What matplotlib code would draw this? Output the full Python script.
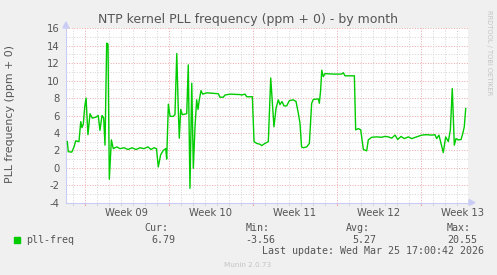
#!/usr/bin/env python3
"""
Munin style NTP kernel PLL frequency graph, by month.
"""
import matplotlib
matplotlib.use("Agg")
import matplotlib.pyplot as plt
from matplotlib.patches import Rectangle, Polygon

# days since left edge of graph, and pll frequency (ppm)
day_offsets = [0.11, 0.19, 0.48, 0.67, 0.81, 1.08, 1.23, 1.33, 1.44, 1.56,
               1.67, 1.83, 2.00, 2.19, 2.48, 2.69, 2.83, 3.00, 3.14, 3.25,
               3.39, 3.50, 3.61, 3.78, 3.94, 4.23, 4.50, 4.83, 5.17, 5.50,
               5.83, 6.17, 6.50, 6.83, 7.08, 7.33, 7.54, 7.69, 7.89, 8.11,
               8.31, 8.39, 8.53, 8.67, 8.94, 9.08, 9.23, 9.36, 9.44, 9.56,
               9.69, 10.06, 10.19, 10.33, 10.48, 10.61, 10.75, 10.89, 11.00, 11.11,
               11.25, 11.39, 11.73, 12.69, 12.83, 13.11, 13.25, 13.67, 14.50, 14.64,
               14.92, 15.06, 15.53, 15.67, 15.89, 16.17, 16.31, 16.58, 16.86, 17.06,
               17.33, 17.50, 17.69, 17.83, 18.00, 18.17, 18.39, 18.61, 18.94, 19.17,
               19.36, 19.50, 19.63, 19.78, 20.06, 20.28, 20.47, 20.61, 21.03, 21.11,
               21.22, 21.31, 21.44, 21.58, 22.28, 22.97, 23.11, 23.25, 24.03, 24.14,
               24.36, 24.56, 24.78, 25.06, 25.19, 25.47, 25.89, 26.31, 26.58, 26.86,
               27.14, 27.42, 27.64, 27.92, 28.19, 28.53, 28.81, 29.22, 29.64, 30.06,
               30.47, 30.75, 30.89, 31.08, 31.25, 31.44, 31.64, 31.86, 32.03, 32.19,
               32.36, 32.50, 32.69, 32.92, 33.06, 33.19, 33.31]
pll_freq = [3.0, 1.85, 1.8, 2.4, 3.1, 3.0, 5.3, 4.6, 5.0, 7.0,
            8.0, 3.8, 6.2, 5.7, 5.8, 6.0, 4.3, 6.0, 5.7, 2.6,
            14.3, 14.2, -1.3, 3.2, 2.2, 2.4, 2.2, 2.3, 2.1, 2.3,
            2.1, 2.3, 2.2, 2.4, 2.1, 2.3, 2.2, 0.1, 1.5, 2.0,
            2.2, 1.0, 7.3, 5.9, 5.9, 6.1, 13.1, 6.6, 3.4, 6.7,
            6.1, 6.2, 11.8, -2.35, 9.7, -0.05, 4.7, 7.8, 6.7, 7.8,
            8.85, 8.45, 8.6, 8.5, 8.1, 8.1, 8.35, 8.45, 8.4, 8.35,
            8.45, 8.15, 8.15, 3.0, 2.8, 2.7, 2.55, 2.8, 3.0, 10.3,
            4.7, 6.8, 7.8, 7.25, 7.6, 7.1, 7.1, 7.7, 7.8, 7.6,
            6.25, 5.1, 2.4, 2.3, 2.4, 2.8, 7.4, 7.85, 7.9, 7.4,
            8.9, 11.2, 10.45, 10.8, 10.75, 10.75, 10.9, 10.55, 10.55, 4.35,
            4.5, 4.35, 2.1, 1.95, 3.2, 3.5, 3.55, 3.5, 3.6, 3.55,
            3.4, 3.75, 3.25, 3.6, 3.35, 3.55, 3.35, 3.55, 3.75, 3.8,
            3.75, 3.8, 3.35, 3.75, 2.8, 1.75, 3.55, 3.0, 4.35, 9.1,
            2.6, 3.35, 3.2, 3.25, 3.9, 4.7, 6.8]

week_labels = ['Week 09', 'Week 10', 'Week 11', 'Week 12', 'Week 13']
first_week_start = 1.583   # monday of week 09, in days
x_span = 33.5
y_ticks = list(range(-4, 17, 2))

stats_names = ['Cur:', 'Min:', 'Avg:', 'Max:']
stats_values = ['6.79', '-3.56', '5.27', '20.55']

W, H = 497, 275
TXT = '#555555'
FAINT = '#c4c4c4'
MINOR = '#d6d6d6'
MAJOR = '#efaaaa'
AXIS = '#c9cdf5'


def fx(px):
    return px / W


def fy(py):
    return 1 - py / H


fig = plt.figure(figsize=(W / 100, H / 100), dpi=100, facecolor='#f0f0f0')
ax = fig.add_axes([fx(66), fy(202.7), fx(468) - fx(66), fy(28.3) - fy(202.7)])
ax.set_facecolor('white')
ax.set_xlim(0, x_span)
ax.set_ylim(-4, 16)
for s in ax.spines.values():
    s.set_visible(False)

dots = (0, (1, 1.6))
# horizontal grid
for v in range(-4, 17):
    ax.axhline(v, color=MAJOR if v % 2 == 0 else MINOR, lw=0.72,
               ls=dots, zorder=1)
# vertical grid: days and weeks
d = first_week_start - 1
while d < x_span:
    is_week = abs(((d - first_week_start) / 7) - round((d - first_week_start) / 7)) < 1e-6
    ax.axvline(d, color=MAJOR if is_week else MINOR, lw=0.72, ls=dots, zorder=1)
    ax.plot([d, d], [0, -0.012], transform=ax.get_xaxis_transform(),
            color=MAJOR if is_week else MINOR, lw=0.8, clip_on=False)
    d += 1

ax.plot(day_offsets, pll_freq, color='#00cc00', lw=1.0, zorder=3,
        solid_joinstyle='round')

# axis lines with arrows
ax.plot([0, 0], [0, 1.03], transform=ax.transAxes, color=AXIS, lw=0.8,
        clip_on=False, zorder=2)
ax.plot([0, 1.01], [0, 0], transform=ax.transAxes, color=AXIS, lw=0.8,
        clip_on=False, zorder=2)
fig.patches.append(Polygon([[fx(63), fy(28)], [fx(69), fy(28)], [fx(66), fy(22)]],
                           closed=True, color=AXIS, transform=fig.transFigure))
fig.patches.append(Polygon([[fx(469), fy(199.5)], [fx(469), fy(205.5)], [fx(475), fy(202.7)]],
                           closed=True, color=AXIS, transform=fig.transFigure))

ax.set_yticks(y_ticks)
ax.set_yticklabels([str(v) for v in y_ticks])
ax.set_xticks([first_week_start + 3.5 + 7 * i for i in range(len(week_labels))])
ax.set_xticklabels(week_labels)
ax.tick_params(axis='y', length=0, pad=4.5, labelsize=7.2, labelcolor=TXT)
ax.tick_params(axis='x', length=0, pad=4.0, labelsize=7.2, labelcolor=TXT)

fig.text(fx(248), fy(19.5), 'NTP kernel PLL frequency (ppm + 0) - by month',
         ha='center', va='center', fontsize=9, color=TXT)
fig.text(fx(10), fy(114), 'PLL frequency (ppm + 0)', rotation=90,
         ha='center', va='center', fontsize=7.9, color=TXT)
fig.text(fx(489), fy(53), 'RRDTOOL / TOBI OETIKER', rotation=270,
         ha='center', va='center', fontsize=4.8, color=FAINT)

# legend
mono = 'DejaVu Sans Mono'
fig.patches.append(Rectangle((fx(14), fy(242.5)), fx(5.5), fy(237) - fy(242.5),
                             color='#00cc00', transform=fig.transFigure))
fig.text(fx(26.5), fy(240), 'pll-freq', family=mono, fontsize=7.2,
         color=TXT, va='center')
for i, (name, val) in enumerate(zip(stats_names, stats_values)):
    fig.text(fx(168.5 + 100.7 * i), fy(228), name, family=mono, fontsize=7.2,
             color=TXT, va='center', ha='right')
    fig.text(fx(175 + 100.7 * i), fy(240), val, family=mono, fontsize=7.2,
             color=TXT, va='center', ha='right')
fig.text(fx(483.5), fy(251.5), 'Last update: Wed Mar 25 17:00:42 2026',
         family=mono, fontsize=7.2, color=TXT, va='center', ha='right')
fig.text(fx(248), fy(265), 'Munin 2.0.73', fontsize=5.2, color=FAINT,
         ha='center', va='center')

plt.savefig('out.png', dpi=100, facecolor=fig.get_facecolor())
